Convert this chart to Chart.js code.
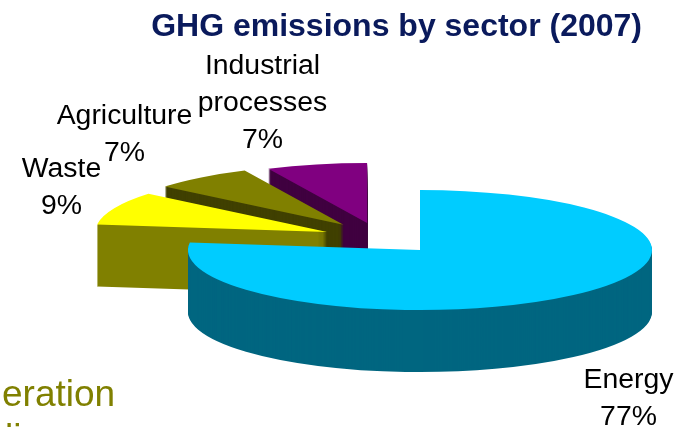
<!DOCTYPE html>
<html lang="en">
<head>
  <meta charset="UTF-8">
  <title>GHG emissions by sector (2007)</title>
  <style>
    html, body { margin: 0; padding: 0; background: #fff; overflow: hidden; }
    #wrap { position: relative; width: 679px; height: 427px; }
  </style>
</head>
<body>
  <div id="wrap"><canvas id="pie" width="679" height="427"></canvas></div>

  <script src="https://cdn.jsdelivr.net/npm/chart.js"></script>
  <script>
    const categories = ['Energy', 'Waste', 'Agriculture', 'Industrial processes'];
    const shares = [77, 9, 7, 7];
    const labelLines = [['Energy', '77%'], ['Waste', '9%'], ['Agriculture', '7%'], ['Industrial', 'processes', '7%']];

    const topColors  = ['#00CCFF', '#FFFF00', '#808000', '#800080'];
    const sideColors = ['#006680', '#808000', '#404000', '#400040'];

    // tilted look: where the pie sits and how it is squashed
    const PIE_X = 420, PIE_Y = 250, RX = 232, RY = 60, DEPTH = 62;
    // pulled-out slices, as fraction of the radius
    const explodeX = [0, -0.40, -0.33, -0.228];
    const explodeY = [0, -0.30, -0.42, -0.45];
    const drawOrder = [3, 2, 1, 0];

    const labelX = [628.5, 61.5, 124.5, 262.5];
    const labelY = [388, 177, 124, 74];
    const LINE_GAP = 37;
    const FONT = '"Liberation Sans", Arial, sans-serif';

    const pie3d = {
      id: 'pie3d',
      beforeDatasetsDraw(chart) {
        const ctx = chart.ctx;
        const arcs = chart.getDatasetMeta(0).data;
        drawOrder.forEach(i => {
          const arc = arcs[i];
          const base = arc.options;
          const sx = RX / arc.outerRadius, sy = RY / arc.outerRadius;
          for (let k = DEPTH; k >= 0; k--) {
            ctx.save();
            ctx.translate(PIE_X + explodeX[i] * RX, PIE_Y + explodeY[i] * RY + k);
            ctx.scale(sx, sy);
            ctx.translate(-arc.x, -arc.y);
            arc.options = Object.assign({}, base, { backgroundColor: k === 0 ? topColors[i] : sideColors[i] });
            arc.draw(ctx);
            ctx.restore();
          }
          arc.options = base;
        });
        return false;
      },
      afterDraw(chart) {
        const ctx = chart.ctx;
        ctx.save();
        ctx.textBaseline = 'alphabetic';

        ctx.textAlign = 'right';
        ctx.fillStyle = '#0A1A5C';
        ctx.font = 'bold 32px ' + FONT;
        ctx.fillText('GHG emissions by sector (2007)', 642, 36);

        ctx.textAlign = 'center';
        ctx.fillStyle = '#000';
        ctx.font = '28.4px ' + FONT;
        labelLines.forEach((lines, i) => {
          lines.forEach((line, j) => ctx.fillText(line, labelX[i], labelY[i] + j * LINE_GAP));
        });

        // leftover of the slide text cut by the crop
        ctx.textAlign = 'left';
        ctx.fillStyle = '#808000';
        ctx.font = '37px ' + FONT;
        ctx.fillText('eration', 2, 406);
        ctx.fillText('li', 5, 450);
        ctx.restore();
      }
    };

    new Chart(document.getElementById('pie'), {
      type: 'pie',
      data: {
        labels: categories,
        datasets: [{ data: shares, backgroundColor: topColors, borderWidth: 0 }]
      },
      options: {
        responsive: false,
        animation: false,
        plugins: {
          legend: { display: false },
          tooltip: { enabled: false },
          title: { display: false }
        }
      },
      plugins: [pie3d]
    });
  </script>
</body>
</html>
